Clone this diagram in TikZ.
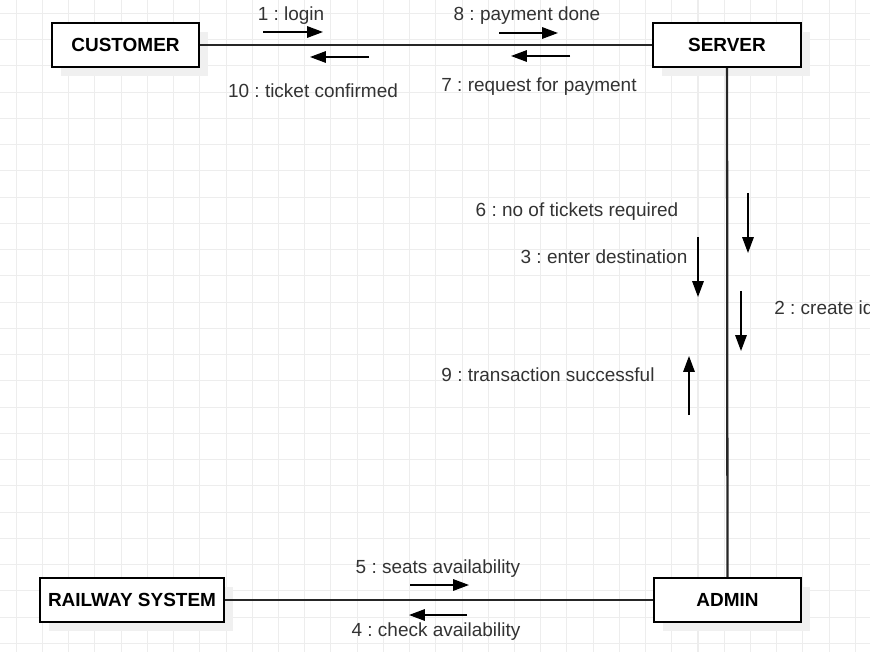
\documentclass[tikz,border=0pt]{standalone}
\usepackage{fontspec}
\setmainfont{Liberation Sans}
\frenchspacing
\usetikzlibrary{arrows.meta,shadows}
\tikzset{
  gridline/.style={line width=0.6pt, black!7},
  obj/.style={draw, line width=1.1pt, fill=white, minimum height=0.88cm,
    font=\fontsize{10.8}{13}\selectfont\bfseries,
    drop shadow={shadow xshift=0.18cm, shadow yshift=-0.18cm, fill=black!6, opacity=1}},
  link/.style={line width=1.3pt, black!85},
  msg/.style={-{Triangle[length=9pt,width=6.5pt]}, line width=0.9pt},
  lbl/.style={text=black!80, font=\fontsize{10.8}{13}\selectfont, inner sep=0pt}
}
\begin{document}
\begin{tikzpicture}[x=0.02cm, y=-0.02cm]
  \useasboundingbox (0,0) rectangle (870,652);
  \fill[white] (0,0) rectangle (870,652);
  \foreach \i in {0,...,33} \draw[gridline] ({16.3+26.22*\i},0) -- ++(0,652);
  \foreach \j in {0,...,24} \draw[gridline] (0,{13.3+26.25*\j}) -- ++(870,0);

  \node[obj, minimum width=2.94cm] (customer) at (125.5,45) {CUSTOMER};
  \node[obj, minimum width=2.96cm] (server) at (727,45) {SERVER};
  \node[obj, minimum width=3.68cm] (railway) at (132,600) {RAILWAY SYSTEM};
  \node[obj, minimum width=2.94cm] (admin) at (727.5,600) {ADMIN};

  \draw[link] (customer) -- (server);
  \draw[link] (server) -- (admin);
  \draw[link] (railway) -- (admin);

  % customer - server
  \coordinate (m1a) at (263,32);  \coordinate (m1b) at (323,32);
  \coordinate (m10a) at (369,57); \coordinate (m10b) at (310,57);
  \coordinate (m8a) at (499,33);  \coordinate (m8b) at (558,33);
  \coordinate (m7a) at (570,56);  \coordinate (m7b) at (511,56);
  \draw[msg] (m1a) -- (m1b);
  \draw[msg] (m10a) -- (m10b);
  \draw[msg] (m8a) -- (m8b);
  \draw[msg] (m7a) -- (m7b);
  \node[lbl] (l1) at (291,16) {1 : login};
  \node[lbl] (l10) at (313,91) {10 : ticket confirmed};
  \node[lbl] (l8) at (527,16) {8 : payment done};
  \node[lbl] (l7) at (539,87) {7 : request for payment};

  % server - admin
  \coordinate (m6a) at (748,193); \coordinate (m6b) at (748,253);
  \coordinate (m3a) at (698,237); \coordinate (m3b) at (698,297);
  \coordinate (m2a) at (741,291); \coordinate (m2b) at (741,351);
  \coordinate (m9a) at (689,415); \coordinate (m9b) at (689,356);
  \draw[msg] (m6a) -- (m6b);
  \draw[msg] (m3a) -- (m3b);
  \draw[msg] (m2a) -- (m2b);
  \draw[msg] (m9a) -- (m9b);
  \node[lbl] (l6) at (577,212) {6 : no of tickets required};
  \node[lbl] (l3) at (604,257) {3 : enter destination};
  \node[lbl, anchor=west] (l2) at (774,308) {2 : create id};
  \node[lbl] (l9) at (548,375) {9 : transaction successful};

  % railway - admin
  \coordinate (m5a) at (410,585); \coordinate (m5b) at (469,585);
  \coordinate (m4a) at (467,615); \coordinate (m4b) at (409,615);
  \draw[msg] (m5a) -- (m5b);
  \draw[msg] (m4a) -- (m4b);
  \node[lbl] (l5) at (438,569) {5 : seats availability};
  \node[lbl] (l4) at (436,632) {4 : check availability};
\end{tikzpicture}
\end{document}
